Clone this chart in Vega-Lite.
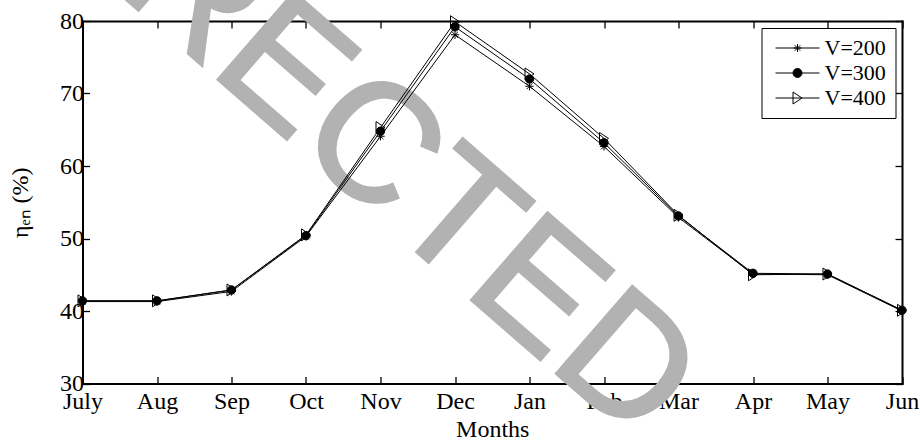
{
  "$schema": "https://vega.github.io/schema/vega-lite/v6.json",
  "width": 819.5,
  "height": 362.5,
  "autosize": {"type": "none"},
  "padding": {"left": 82.5, "top": 21, "right": 18, "bottom": 58.5},
  "background": "white",
  "config": {
    "view": {"stroke": null},
    "font": "Liberation Serif",
    "legend": {"labelFont": "Liberation Serif"},
    "axis": {
      "grid": false,
      "domain": true,
      "domainColor": "black",
      "domainWidth": 2,
      "domainCap": "square",
      "ticks": true,
      "tickColor": "black",
      "tickWidth": 1.3,
      "tickSize": -7,
      "labelFont": "Liberation Serif",
      "labelFontSize": 24,
      "labelColor": "black",
      "titleFont": "Liberation Serif",
      "titleFontSize": 24,
      "titleFontWeight": "normal",
      "titleColor": "black",
      "zindex": 1
    }
  },
  "datasets": {
    "eff": [
      {"month": "July", "m": 0, "series": "V=200", "eta": 41.3},
      {"month": "Aug", "m": 1, "series": "V=200", "eta": 41.3},
      {"month": "Sep", "m": 2, "series": "V=200", "eta": 42.7},
      {"month": "Oct", "m": 3, "series": "V=200", "eta": 50.3},
      {"month": "Nov", "m": 4, "series": "V=200", "eta": 64.1},
      {"month": "Dec", "m": 5, "series": "V=200", "eta": 78.1},
      {"month": "Jan", "m": 6, "series": "V=200", "eta": 71.0},
      {"month": "Feb", "m": 7, "series": "V=200", "eta": 62.7},
      {"month": "Mar", "m": 8, "series": "V=200", "eta": 52.9},
      {"month": "Apr", "m": 9, "series": "V=200", "eta": 45.1},
      {"month": "May", "m": 10, "series": "V=200", "eta": 45.0},
      {"month": "Jun", "m": 11, "series": "V=200", "eta": 40.0},
      {"month": "July", "m": 0, "series": "V=300", "eta": 41.4},
      {"month": "Aug", "m": 1, "series": "V=300", "eta": 41.4},
      {"month": "Sep", "m": 2, "series": "V=300", "eta": 42.9},
      {"month": "Oct", "m": 3, "series": "V=300", "eta": 50.4},
      {"month": "Nov", "m": 4, "series": "V=300", "eta": 64.8},
      {"month": "Dec", "m": 5, "series": "V=300", "eta": 79.2},
      {"month": "Jan", "m": 6, "series": "V=300", "eta": 72.0},
      {"month": "Feb", "m": 7, "series": "V=300", "eta": 63.2},
      {"month": "Mar", "m": 8, "series": "V=300", "eta": 53.1},
      {"month": "Apr", "m": 9, "series": "V=300", "eta": 45.2},
      {"month": "May", "m": 10, "series": "V=300", "eta": 45.1},
      {"month": "Jun", "m": 11, "series": "V=300", "eta": 40.1},
      {"month": "July", "m": 0, "series": "V=400", "eta": 41.4},
      {"month": "Aug", "m": 1, "series": "V=400", "eta": 41.4},
      {"month": "Sep", "m": 2, "series": "V=400", "eta": 42.9},
      {"month": "Oct", "m": 3, "series": "V=400", "eta": 50.5},
      {"month": "Nov", "m": 4, "series": "V=400", "eta": 65.3},
      {"month": "Dec", "m": 5, "series": "V=400", "eta": 79.9},
      {"month": "Jan", "m": 6, "series": "V=400", "eta": 72.7},
      {"month": "Feb", "m": 7, "series": "V=400", "eta": 63.8},
      {"month": "Mar", "m": 8, "series": "V=400", "eta": 53.2},
      {"month": "Apr", "m": 9, "series": "V=400", "eta": 45.0},
      {"month": "May", "m": 10, "series": "V=400", "eta": 45.1},
      {"month": "Jun", "m": 11, "series": "V=400", "eta": 40.1}
    ],
    "stamp": [
      {"label": "CORRECTED", "m": 2.5, "eta": 75.0}
    ]
  },
  "layer": [
    {
      "data": {"name": "stamp"},
      "mark": {
        "type": "text",
        "font": "Liberation Sans",
        "fontSize": 168,
        "angle": 41,
        "color": "#b2b2b2",
        "stroke": "#b2b2b2",
        "strokeWidth": 3,
        "align": "center",
        "baseline": "middle"
      },
      "encoding": {
        "x": {
          "field": "m",
          "type": "quantitative",
          "scale": {"domain": [0, 11], "nice": false, "zero": false},
          "axis": {
            "orient": "bottom",
            "values": [0, 1, 2, 3, 4, 5, 6, 7, 8, 9, 10, 11],
            "labelExpr": "['July','Aug','Sep','Oct','Nov','Dec','Jan','Feb','Mar','Apr','May','Jun'][datum.value]",
            "labelPadding": 13,
            "labelFlush": false,
            "labelOverlap": false,
            "title": "Months",
            "titlePadding": 4
          }
        },
        "y": {
          "field": "eta",
          "type": "quantitative",
          "scale": {"domain": [30, 80], "nice": false, "zero": false},
          "axis": {
            "orient": "left",
            "values": [30, 40, 50, 60, 70, 80],
            "labelPadding": 6,
            "labelFlush": false,
            "labelOverlap": false,
            "title": "ηₑₙ (%)",
            "titlePadding": 27
          }
        },
        "text": {"field": "label"}
      }
    },
    {
      "data": {"name": "eff"},
      "mark": {"type": "line", "color": "black", "strokeWidth": 1},
      "encoding": {
        "x": {
          "field": "m",
          "type": "quantitative",
          "axis": {
            "orient": "top",
            "values": [0, 1, 2, 3, 4, 5, 6, 7, 8, 9, 10, 11],
            "labels": false,
            "title": null
          }
        },
        "y": {
          "field": "eta",
          "type": "quantitative",
          "axis": {
            "orient": "right",
            "values": [30, 40, 50, 60, 70, 80],
            "labels": false,
            "title": null
          }
        },
        "detail": {"field": "series"},
        "order": {"field": "m"}
      }
    },
    {
      "data": {"name": "eff"},
      "mark": {"type": "point", "stroke": "black", "strokeWidth": 1, "opacity": 1},
      "encoding": {
        "x": {"field": "m", "type": "quantitative", "axis": null},
        "y": {"field": "eta", "type": "quantitative", "axis": null},
        "shape": {
          "field": "series",
          "type": "nominal",
          "scale": {
            "domain": ["V=200", "V=300", "V=400"],
            "range": [
              "M-1,0L1,0M0,-1L0,1M-0.7,-0.7L0.7,0.7M-0.7,0.7L0.7,-0.7",
              "circle",
              "M-0.75,-1L0.75,0L-0.75,1Z"
            ]
          },
          "legend": null
        },
        "fill": {
          "condition": {"test": "datum.series === 'V=300'", "value": "black"},
          "value": "transparent"
        },
        "size": {
          "condition": {"test": "datum.series === 'V=400'", "value": 144},
          "value": 70
        }
      }
    },
    {
      "data": {"name": "eff"},
      "mark": {"type": "point", "filled": false, "stroke": "black", "opacity": 0},
      "encoding": {
        "x": {"field": "m", "type": "quantitative", "axis": null},
        "y": {"field": "eta", "type": "quantitative", "axis": null},
        "shape": {
          "field": "series",
          "type": "nominal",
          "scale": {
            "domain": ["V=200", "V=300", "V=400"],
            "range": [
              "M-0.857,0L5.43,0M1.716,0L2.856,0M2.286,-0.57L2.286,0.57M1.886,-0.4L2.686,0.4M1.886,0.4L2.686,-0.4",
              "M-0.857,0L5.43,0M1.646,0A0.64,0.64 0 1,0 2.926,0A0.64,0.64 0 1,0 1.646,0Z",
              "M-0.857,0L5.43,0M1.646,-0.86L2.926,0L1.646,0.86Z"
            ]
          },
          "legend": {
            "orient": "top-right",
            "offset": 7,
            "title": null,
            "symbolSize": 196,
            "symbolOpacity": 1,
            "symbolStrokeWidth": 1,
            "symbolStrokeColor": "black",
            "labelFont": "Liberation Serif",
            "labelFontSize": 22,
            "labelColor": "black",
            "labelOffset": 32,
            "rowPadding": 3,
            "padding": 9,
            "strokeColor": "black",
            "fillColor": "white",
            "encoding": {
              "symbols": {
                "fill": {
                  "condition": {"test": "datum.value === 'V=300'", "value": "black"},
                  "value": "transparent"
                },
                "stroke": {"value": "black"},
                "strokeWidth": {"value": 1},
                "opacity": {"value": 1}
              }
            }
          }
        }
      }
    }
  ],
  "resolve": {
    "axis": {"x": "independent", "y": "independent"},
    "scale": {"shape": "independent"}
  }
}
